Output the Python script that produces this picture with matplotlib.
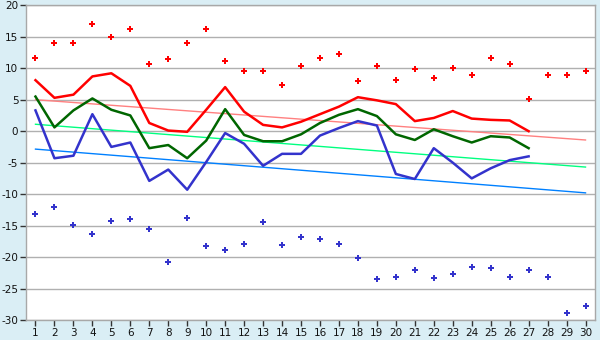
import numpy as np
import matplotlib
matplotlib.use("Agg")
import matplotlib.pyplot as plt

plt.rcParams["axes.unicode_minus"] = False

days = list(range(1, 31))

# Daily values (days 1-27)
tmax = [8.1, 5.3, 5.8, 8.7, 9.2, 7.2, 1.3, 0.1, -0.1, 3.4, 7.0, 3.1, 1.0, 0.6,
        1.5, 2.7, 3.9, 5.4, 4.9, 4.3, 1.6, 2.1, 3.2, 2.0, 1.8, 1.7, 0.0]
tmean = [5.5, 0.6, 3.3, 5.2, 3.4, 2.5, -2.7, -2.2, -4.3, -1.5, 3.5, -0.6, -1.6, -1.6,
         -0.5, 1.3, 2.6, 3.5, 2.4, -0.5, -1.4, 0.3, -0.8, -1.8, -0.8, -1.0, -2.7]
tmin = [3.3, -4.3, -3.9, 2.7, -2.5, -1.8, -7.9, -6.1, -9.3, -4.9, -0.3, -2.0, -5.5, -3.6,
        -3.6, -0.7, 0.5, 1.6, 0.9, -6.8, -7.6, -2.7, -5.0, -7.5, -5.9, -4.6, -4.0]

# Record extremes for each day of the month
rec_max = [11.7, 14.0, 14.0, 17.0, 14.9, 16.3, 10.6, 11.4, 14.0, 16.3, 11.1, 9.5, 9.5, 7.3,
           10.4, 11.7, 12.2, 7.9, 10.3, 8.2, 9.8, 8.4, 10.0, 9.0, 11.7, 10.6, 5.1, 9.0, 9.0, 9.5]
rec_min = [-13.2, -12.1, -14.9, -16.4, -14.3, -14.0, -15.6, -20.8, -13.8, -18.3, -18.9, -17.9,
           -14.4, -18.1, -16.8, -17.1, -17.9, -20.2, -23.5, -23.2, -22.1, -23.3, -22.7, -21.6,
           -21.7, -23.2, -22.1, -23.2, -28.9, -27.8]

# Climate normals at the first and last day of the month
normal_max = [5.0, -1.4]
normal_mean = [1.1, -5.7]
normal_min = [-2.85, -9.8]

fig = plt.figure(figsize=(6.0, 3.4), dpi=100)
bg = "#DAEEF5"
fig.patch.set_facecolor(bg)
ax = fig.add_axes([26 / 600, 1 - 320 / 340, (595 - 26) / 600, (320 - 5.3) / 340])
ax.set_facecolor("white")

ends = [days[0], days[-1]]
ax.plot(ends, normal_max, color="#FF8080", lw=1.0, zorder=2)
ax.plot(ends, normal_mean, color="#00FF80", lw=1.0, zorder=2)
ax.plot(ends, normal_min, color="#0080FF", lw=1.0, zorder=2)

n = len(tmax)
ax.plot(days[:n], tmax, color="#FF0000", lw=1.8, zorder=3)
ax.plot(days[:n], tmean, color="#006600", lw=1.8, zorder=3)
ax.plot(days[:n], tmin, color="#3333CC", lw=1.8, zorder=3)

ax.plot(days, rec_max, linestyle="none", marker="P", ms=4.5, color="#FF0000",
        markeredgewidth=0, zorder=4)
ax.plot(days, rec_min, linestyle="none", marker="P", ms=4.5, color="#3333CC",
        markeredgewidth=0, zorder=4)

ax.set_xlim(0.5, 30.5)
ax.set_ylim(-30, 20)
ax.set_xticks(days)
ax.set_yticks(np.arange(-30, 21, 5))
ax.yaxis.grid(True, color="#B0B0B0", lw=1.0)
ax.set_axisbelow(True)
for s in ax.spines.values():
    s.set_color("#A8A8A8")
    s.set_linewidth(1.0)
ax.tick_params(axis="both", labelsize=7.5, color="#333333", length=4, width=1,
               labelcolor="#111111", pad=2)
ax.tick_params(axis="y", pad=1.5)

fig.savefig("out.png", dpi=100, facecolor=bg)
